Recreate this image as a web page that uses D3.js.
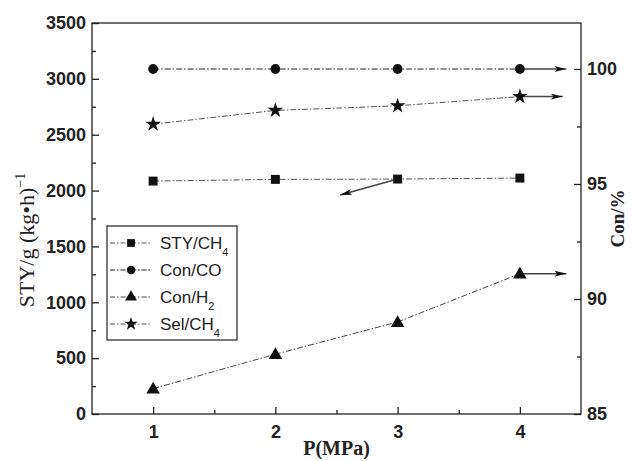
<!DOCTYPE html>
<html><head><meta charset="utf-8">
<script src="https://cdn.jsdelivr.net/npm/d3@7"></script>
<style>body{margin:0;background:#fff}svg{display:block}</style>
</head><body><svg id="c" width="633" height="461"></svg>
<script>
const pressure = [1, 2, 3, 4];
const styCH4 = [2085, 2100, 2103, 2112];   // left axis
const conCO = [100, 100, 100, 100];        // right axis
const conH2 = [86.1, 87.6, 89.0, 91.1];    // right axis
const selCH4 = [97.6, 98.2, 98.4, 98.8];   // right axis
const leftTicks = [0, 500, 1000, 1500, 2000, 2500, 3000, 3500];
const rightTicks = [85, 90, 95, 100];
const xTicks = [1, 2, 3, 4];
const legendLabels = [["STY/CH", "4"], ["Con/CO", ""], ["Con/H", "2"], ["Sel/CH", "4"]];

const svg = d3.select("#c");
const L = 92, R = 581, T = 23, B = 414;
const x = d3.scaleLinear().domain([0.5, 4.5]).range([L, R]);
const yL = d3.scaleLinear().domain([0, 3500]).range([B, T]);
const yR = d3.scaleLinear().domain([85, 102]).range([B, T]);

const fontTick = "'Liberation Sans', Arial, sans-serif";
const fontSerif = "'Liberation Serif', 'Times New Roman', serif";

// frame
svg.append("rect").attr("x", L).attr("y", T).attr("width", R - L).attr("height", B - T)
  .attr("fill", "none").attr("stroke", "#222").attr("stroke-width", 1.3);

// axes
function styleAxis(g) {
  g.select(".domain").remove();
  g.selectAll("line").attr("stroke", "#222").attr("stroke-width", 1.3);
  g.selectAll("text").attr("font-family", fontTick).attr("font-weight", "bold")
    .attr("font-size", 18).attr("fill", "#222");
}
const gx = svg.append("g").attr("transform", `translate(0,${B})`)
  .call(d3.axisBottom(x).tickValues(xTicks).tickFormat(d3.format("d")).tickSizeInner(-7).tickPadding(11));
styleAxis(gx);
svg.append("g").attr("transform", `translate(0,${B})`)
  .call(d3.axisBottom(x).tickValues([1.5, 2.5, 3.5]).tickFormat("").tickSizeInner(-4))
  .call(g => { g.select(".domain").remove(); g.selectAll("line").attr("stroke", "#222").attr("stroke-width", 1.3); });

const gl = svg.append("g").attr("transform", `translate(${L},0)`)
  .call(d3.axisLeft(yL).tickValues(leftTicks).tickFormat(d3.format("d")).tickSizeInner(-7).tickPadding(6));
styleAxis(gl);
svg.append("g").attr("transform", `translate(${L},0)`)
  .call(d3.axisLeft(yL).tickValues(d3.range(250, 3500, 500)).tickFormat("").tickSizeInner(-4))
  .call(g => { g.select(".domain").remove(); g.selectAll("line").attr("stroke", "#222").attr("stroke-width", 1.3); });

const gr = svg.append("g").attr("transform", `translate(${R},0)`)
  .call(d3.axisRight(yR).tickValues(rightTicks).tickFormat(d3.format("d")).tickSizeInner(-7).tickPadding(6));
styleAxis(gr);
svg.append("g").attr("transform", `translate(${R},0)`)
  .call(d3.axisRight(yR).tickValues([87.5, 92.5, 97.5]).tickFormat("").tickSizeInner(-4))
  .call(g => { g.select(".domain").remove(); g.selectAll("line").attr("stroke", "#222").attr("stroke-width", 1.3); });

// axis titles
const lt = svg.append("text").attr("transform", `translate(34,240) rotate(-90)`)
  .attr("text-anchor", "middle").attr("font-family", fontSerif).attr("font-size", 22).attr("fill", "#222");
lt.append("tspan").text("STY/g (kg•h)");
lt.append("tspan").attr("dy", -9).attr("font-size", 14).text("−1");
svg.append("text").attr("transform", `translate(624,${(T + B) / 2}) rotate(-90)`)
  .attr("text-anchor", "middle").attr("font-family", fontSerif).attr("font-weight", "bold")
  .attr("font-size", 19).attr("fill", "#222").text("Con/%");
svg.append("text").attr("x", (L + R) / 2).attr("y", 455).attr("text-anchor", "middle")
  .attr("font-family", fontSerif).attr("font-weight", "bold").attr("font-size", 20).attr("fill", "#222").text("P(MPa)");

// markers
const sym = [d3.symbolSquare, d3.symbolCircle, d3.symbolTriangle, d3.symbolStar];
const symSize = [80, 75, 80, 75];
const series = [
  { v: styCH4, y: yL, c: "#555" },
  { v: conCO, y: yR, c: "#222" },
  { v: conH2, y: yR, c: "#444" },
  { v: selCH4, y: yR, c: "#555" }
];
const dash = "6,2,1.5,2";

// arrows
const defs = svg.append("defs");
defs.append("marker").attr("id", "ah").attr("viewBox", "0 0 12 6").attr("refX", 12).attr("refY", 3)
  .attr("markerWidth", 12).attr("markerHeight", 6).attr("markerUnits", "userSpaceOnUse").attr("orient", "auto")
  .append("path").attr("d", "M0,0 L12,3 L0,6 L3,3 Z").attr("fill", "#111");
const arrows = [
  { x0: 3, v0: styCH4[2], x1: 2.53, v1: 1960, y: yL },
  { x0: 4, v0: conCO[3], x1: 4.38, v1: conCO[3], y: yR },
  { x0: 4, v0: conH2[3], x1: 4.38, v1: conH2[3], y: yR },
  { x0: 4, v0: selCH4[3], x1: 4.35, v1: selCH4[3], y: yR }
];
arrows.forEach(a => {
  svg.append("line").attr("x1", x(a.x0)).attr("y1", a.y(a.v0)).attr("x2", x(a.x1)).attr("y2", a.y(a.v1))
    .attr("stroke", "#444").attr("stroke-width", 1.5).attr("marker-end", "url(#ah)");
});

series.forEach((s, i) => {
  const line = d3.line().x((d, j) => x(pressure[j])).y(d => s.y(d));
  svg.append("path").datum(s.v).attr("d", line).attr("fill", "none")
    .attr("stroke", s.c).attr("stroke-width", 1).attr("stroke-dasharray", dash);
  svg.selectAll(null).data(s.v).enter().append("path")
    .attr("d", d3.symbol().type(sym[i]).size(symSize[i]))
    .attr("transform", (d, j) => `translate(${x(pressure[j])},${s.y(d) + (i === 2 ? 1 : 0)})`)
    .attr("fill", "#111");
});

// legend
const lg = svg.append("g");
lg.append("rect").attr("x", 107).attr("y", 226).attr("width", 130).attr("height", 114)
  .attr("fill", "#fff").attr("stroke", "#222").attr("stroke-width", 1.2);
legendLabels.forEach((lab, i) => {
  const yy = 243 + i * 27;
  lg.append("line").attr("x1", 110).attr("x2", 152).attr("y1", yy).attr("y2", yy)
    .attr("stroke", series[i].c).attr("stroke-width", 1).attr("stroke-dasharray", "5,2,1.5,2");
  lg.append("path").attr("d", d3.symbol().type(sym[i]).size(symSize[i] * 0.75))
    .attr("transform", `translate(131,${yy})`).attr("fill", "#111");
  const t = lg.append("text").attr("x", 160).attr("y", yy + 6).attr("font-family", fontTick)
    .attr("font-size", 17).attr("fill", "#222");
  t.append("tspan").text(lab[0]);
  if (lab[1]) t.append("tspan").attr("dy", 7).attr("font-size", 11).text(lab[1]);
});
</script></body></html>
